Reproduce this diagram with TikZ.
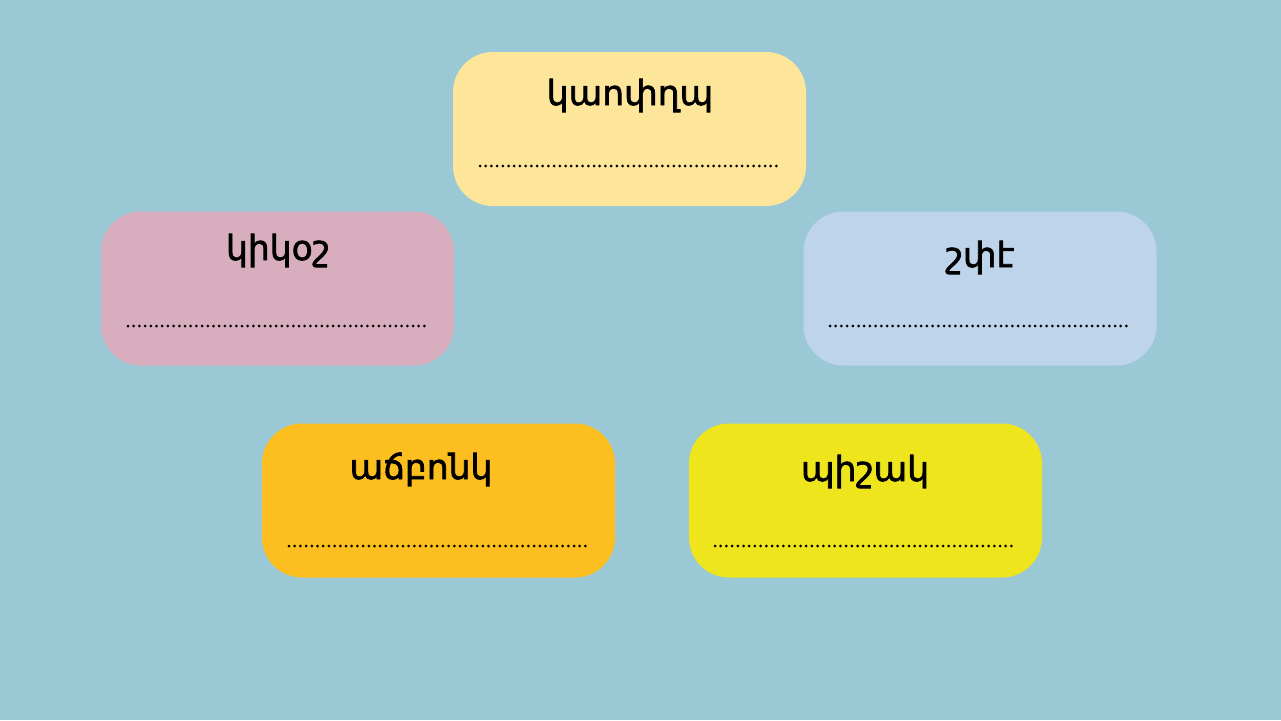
\documentclass[tikz,border=0pt]{standalone}
\usepackage{fontspec}
\setmainfont{DejaVu Sans}
\newfontfamily\wordfont[FakeBold=2]{DejaVu Sans}
\definecolor{bg}{HTML}{9AC9D5}
\definecolor{c1}{HTML}{FDE69A}
\definecolor{c2}{HTML}{D8AEBF}
\definecolor{c3}{HTML}{BDD4EA}
\definecolor{c4}{HTML}{FDBF1F}
\definecolor{c5}{HTML}{EEE51D}
\begin{document}
\begin{tikzpicture}[x=1pt,y=-1pt,
  box/.style={rounded corners=40pt, minimum width=353pt, minimum height=154pt, inner sep=0pt, draw=none},
  word/.style={anchor=base, inner sep=0pt, font=\wordfont\fontsize{34.5}{40}\selectfont},
  dotline/.style={line width=3pt, line cap=round, dash pattern=on 0pt off 5.7pt}]
\fill[bg] (0,0) rectangle (1281,720);
\useasboundingbox (0,0) rectangle (1281,720);

\node[box, fill=c1] (b1) at (629.5,129) {};
\node[box, fill=c2] (b2) at (277.5,288.5) {};
\node[box, fill=c3] (b3) at (980,288.5) {};
\node[box, fill=c4] (b4) at (438.5,500.5) {};
\node[box, fill=c5] (b5) at (865.5,500.5) {};

\node[word] (w1) at (630,105) {կաոփղպ};
\node[word] (w2) at (278,260) {կիկօշ};
\node[word] (w3) at (980,267) {շփէ};
\node[word] (w4) at (421,479) {աճբոնկ};
\node[word] (w5) at (865,481) {պիշակ};

\coordinate (d1a) at (480,166); \coordinate (d1b) at (780,166);
\coordinate (d2a) at (128,326); \coordinate (d2b) at (428,326);
\coordinate (d3a) at (830,326); \coordinate (d3b) at (1130,326);
\coordinate (d4a) at (289,546); \coordinate (d4b) at (589,546);
\coordinate (d5a) at (715,546); \coordinate (d5b) at (1015,546);
\draw[dotline] (d1a) -- (d1b);
\draw[dotline] (d2a) -- (d2b);
\draw[dotline] (d3a) -- (d3b);
\draw[dotline] (d4a) -- (d4b);
\draw[dotline] (d5a) -- (d5b);
\end{tikzpicture}
\end{document}
